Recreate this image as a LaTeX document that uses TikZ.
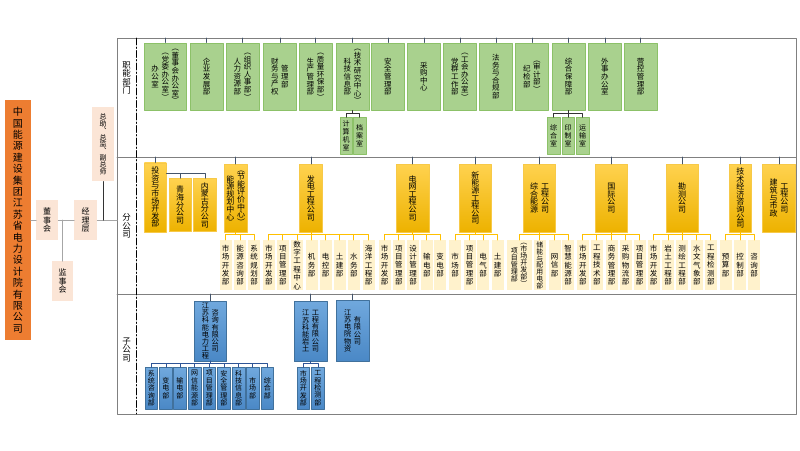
\documentclass[tikz,border=0pt]{standalone}
\usepackage{fontspec}
\setmainfont{Noto Sans CJK SC}
\usepackage{tikz}
\definecolor{orgOrange}{HTML}{ED7D31}
\definecolor{orgPeach}{HTML}{FBE5D6}
\definecolor{orgGreen}{HTML}{A9D18E}
\definecolor{orgGreenLine}{HTML}{8CC168}
\definecolor{orgGold}{HTML}{FFC000}
\definecolor{orgGoldTop}{HTML}{FFD24F}
\definecolor{orgGoldBottom}{HTML}{EDB200}
\definecolor{orgGoldLine}{HTML}{F7C948}
\definecolor{orgCream}{HTML}{FFF2CC}
\definecolor{orgBlueTop}{HTML}{70A8DD}
\definecolor{orgBlueBottom}{HTML}{4A88C6}
\definecolor{orgBlueLine}{HTML}{41719C}
\definecolor{orgNavy}{HTML}{2F5597}
\definecolor{orgSlate}{HTML}{44546A}
\definecolor{orgFrame}{HTML}{808080}
\definecolor{orgSpine}{HTML}{A6A6A6}
% vertical text: one character per line, columns centred
\makeatletter
\newcommand\vtextbox[1]{\ensuremath{\vcenter{\lineskiplimit=-\maxdimen\lineskip=0pt
  \@tfor\vch:=#1\do{\hbox to 1.35em{\hss\vch\hss}}}}}
\newcommand\vtext[1]{\expandafter\vtextbox\expandafter{#1}}
\makeatother
\tikzset{
  org diagram/.style={x=1pt, y=-1pt, line cap=round, line join=round},
  org box/.style={inner sep=0pt, anchor=north west, text=black},
  org main box/.style={org box, fill=orgOrange, font=\fontsize{10}{11.4}\selectfont},
  org lead box/.style={org box, fill=orgPeach, font=\fontsize{8}{8.5}\selectfont},
  org fn box/.style={org box, draw=orgGreenLine, fill=orgGreen, line width=0.6pt,
    font=\fontsize{7.5}{7.6}\selectfont},
  org fn sub/.style={org fn box, font=\fontsize{7}{7.8}\selectfont},
  org branch box/.style={org box, draw=orgGoldLine, top color=orgGoldTop,
    bottom color=orgGoldBottom, line width=0.6pt, font=\fontsize{8}{7.6}\selectfont},
  org unit box/.style={org box, fill=orgCream, font=\fontsize{7.5}{8.4}\selectfont},
  org sub box/.style={org box, draw=orgBlueLine, top color=orgBlueTop,
    bottom color=orgBlueBottom, line width=0.6pt, font=\fontsize{7.2}{7.2}\selectfont},
  org sub unit/.style={org sub box, font=\fontsize{7}{7.4}\selectfont},
  org label/.style={inner sep=0pt, font=\fontsize{8.5}{8.3}\selectfont},
  org frame/.style={draw=orgFrame, line width=0.8pt},
  org spine/.style={draw=orgSpine, line width=1.2pt},
  org stub/.style={draw=orgSlate, line width=0.6pt},
  org link/.style={draw=black!80, line width=0.6pt},
  org gold link/.style={draw=orgGold, line width=0.9pt},
  org blue link/.style={draw=orgNavy, line width=0.8pt},
  org dashdot/.style={draw=black, line width=0.8pt, dash pattern=on 7pt off 2pt on 1.5pt off 2pt}
}
\begin{document}
\begin{tikzpicture}[org diagram]
\useasboundingbox[fill=white] (0,0) rectangle (800,450);
% frame and sections
\coordinate (fn top) at (117,38);
\coordinate (fg top) at (117,157);
\coordinate (zg top) at (117,294);
\draw[org frame] (117,38) rectangle (796,414);
\draw[org frame] (fg top) -- (796,157);
\draw[org frame] (zg top) -- (796,294);
\draw[org dashdot] (136,38) -- (136,414);
\node[org label] (lbl-fn) at (126.5,78) {\vtext{职能部门}};
\node[org label] (lbl-fg) at (126.5,226) {\vtext{分公司}};
\node[org label] (lbl-zg) at (126.5,350) {\vtext{子公司}};

% leadership
\node[org main box, minimum width=25.5pt, minimum height=240pt] (jt) at (5,100) {\vtext{中国能源建设集团江苏省电力设计院有限公司}};
\node[org lead box, minimum width=22pt, minimum height=40pt] (dsh) at (36,200) {\vtext{董事会}};
\node[org lead box, minimum width=21pt, minimum height=40pt] (jsh) at (52,261) {\vtext{监事会}};
\node[org lead box, minimum width=23pt, minimum height=40pt] (jlc) at (74,200) {\vtext{经理层}};
\node[org lead box, minimum width=22pt, minimum height=74pt, font=\fontsize{7}{6.8}\selectfont] (zz) at (92,107) {\vtext{总助︑总监︑副总师}};
\draw[org spine] (jt.east) -- (dsh.west);
\draw[org spine] (dsh.east) -- (jlc.west);
\draw[org spine] (jlc.east) -- (jlc.east -| fn top);
\draw[org spine] (jsh.north) -- (jsh.north |- dsh.east);
\draw[org link] (zz.south) -- (zz.south |- jlc.east);

% functional departments
\node[org fn box, minimum width=41.5pt, minimum height=67.5pt] (bgs) at (144.3,42.5) {\vtext{办公室}\vtext{︵党委办公室︶}\vtext{︵董事会办公室︶}};
\foreach \n/\x/\t in {qyfz/190/{\vtext{企业发展部}}, rlzy/226/{\vtext{人力资源部}\vtext{︵组织人事部︶}}, cwcq/263.3/{\vtext{财务与产权}\vtext{管理部}}, scgl/299/{\vtext{生产管理部}\vtext{︵质量环保部︶}}, kjxx/336/{\vtext{科技信息部}\vtext{︵技术研究中心︶}}, aqgl/371.3/{\vtext{安全管理部}}, cgzx/407.3/{\vtext{采购中心}}, dqgz/443.3/{\vtext{党群工作部}\vtext{︵工会办公室︶}}, fwhg/479.3/{\vtext{法务与合规部}}, jjb/515.3/{\vtext{纪检部}\vtext{︵审计部︶}}, zhbz/552/{\vtext{综合保障部}}, wsbgs/588.3/{\vtext{外事办公室}}, ykgl/624/{\vtext{营控管理部}}}
  \node[org fn box, minimum width=32.5pt, minimum height=67.5pt] (\n) at (\x,42.5) {\t};
\foreach \n in {bgs,qyfz,rlzy,cwcq,scgl,kjxx,aqgl,cgzx,dqgz,fwhg,jjb,zhbz,wsbgs,ykgl}
  \draw[org stub] (\n.north) -- (\n.north |- fn top);
\foreach \n/\x/\t in {kjxx-1/339.5/计算机室, kjxx-2/353/档案室, zhbz-1/547/综合室, zhbz-2/561.5/印制室, zhbz-3/576/运输室}
  \node[org fn sub, minimum width=12.5pt, minimum height=36.5pt] (\n) at (\x,117.3) {\vtext{\t}};
\foreach \i in {1,2}
  \draw[org link] (kjxx.south) -- ++(0,2.5) -| (kjxx-\i.north);
\foreach \i in {1,2,3}
  \draw[org link] (zhbz.south) -- ++(0,2.5) -| (zhbz-\i.north);

% branches
\node[org branch box, minimum width=22pt, minimum height=69pt] (tzsc) at (144,162.5) {\vtext{投资与市场开发部}};
\node[org branch box, minimum width=22pt, minimum height=53pt] (qh) at (168.7,178.3) {\vtext{青海分公司}};
\node[org branch box, minimum width=22.7pt, minimum height=53pt] (nmg) at (193.3,178.3) {\vtext{内蒙古分公司}};
\draw[org stub] (tzsc.north east) ++(0,11) -| (qh.north);
\draw[org stub] (tzsc.north east) ++(0,11) -| (nmg.north);
\foreach \n/\x/\w/\t in {nygh/224/22.7/{\vtext{能源规划中心}\vtext{︵节能评价中心︶}}, fdgc/299.3/22.7/{\vtext{发电工程公司}}, dwgc/396/32.7/{\vtext{电网工程公司}}, xny/459.3/31.5/{\vtext{新能源工程公司}}, zhny/523.3/32/{\vtext{综合能源}\vtext{工程公司}}, gjgs/595/32.3/{\vtext{国际公司}}, kcgs/665.7/32.3/{\vtext{勘测公司}}, jjzx/729/22.3/{\vtext{技术经济咨询公司}}, jzsz/762.3/32.7/{\vtext{建筑与市政}\vtext{工程公司}}}
  \node[org branch box, minimum width=\w pt, minimum height=67.5pt] (\n) at (\x,164) {\t};
\foreach \n in {tzsc,nygh,fdgc,dwgc,xny,zhny,gjgs,kcgs,jjzx,jzsz}
  \draw[org stub] (\n.north) -- (\n.north |- fg top);
\foreach \p/\i/\x/\t in {nygh/1/219.3/市场开发部, nygh/2/234/能源咨询部, nygh/3/248/系统规划部, fdgc/1/262.7/市场开发部, fdgc/2/276.7/项目管理部, fdgc/3/291/数字工程中心, fdgc/4/305.3/机务部, fdgc/5/319.3/电控部, fdgc/6/333.3/土建部, fdgc/7/347.7/水务部, fdgc/8/362.5/海洋工程部, dwgc/1/378.3/市场开发部, dwgc/2/392.7/项目管理部, dwgc/3/407/设计管理部, dwgc/4/420.7/输电部, dwgc/5/434/变电部, xny/1/449/市场部, xny/2/463.3/项目管理部, xny/3/477/电气部, xny/4/491.3/土建部, zhny/3/548.5/网信部, zhny/4/562/智慧能源部, gjgs/1/576.7/市场开发部, gjgs/2/590.7/工程技术部, gjgs/3/605.3/商务管理部, gjgs/4/619.3/采购物流部, gjgs/5/633.3/项目管理部, kcgs/1/647.3/市场开发部, kcgs/2/662/岩土工程部, kcgs/3/676/测绘工程部, kcgs/4/690.7/水文气象部, kcgs/5/704.7/工程检测部, jjzx/1/719.5/预算部, jjzx/2/734/控制部, jjzx/3/748/咨询部}
  \node[org unit box, minimum width=12pt, minimum height=50pt] (\p-\i) at (\x,240) {\vtext{\t}};
\node[org unit box, minimum width=24.6pt, minimum height=50pt, font=\fontsize{7}{7}\selectfont] (zhny-1) at (506.7,240) {\vtext{项目管理部}\vtext{︵市场开发部︶}};
\node[org unit box, minimum width=12pt, minimum height=50pt, font=\fontsize{6.8}{6.8}\selectfont] (zhny-2) at (533.5,240) {\vtext{储能与配用电部}};
\foreach \p/\k in {nygh/3, fdgc/8, dwgc/5, xny/4, zhny/4, gjgs/5, kcgs/5, jjzx/3}
  \foreach \i in {1,...,\k}
    \draw[org gold link] (\p.south) -- ++(0,2.8) -| (\p-\i.north);

% subsidiaries
\node[org sub box, minimum width=32pt, minimum height=60pt] (kndl) at (194,300.7) {\vtext{江苏科能电力工程}\vtext{咨询有限公司}};
\node[org sub box, minimum width=32.7pt, minimum height=60pt] (knyt) at (294,300.7) {\vtext{江苏科能岩土}\vtext{工程有限公司}};
\node[org sub box, minimum width=32.7pt, minimum height=60.7pt] (dywz) at (336,300) {\vtext{江苏电院物资}\vtext{有限公司}};
\foreach \n in {kndl,knyt,dywz}
  \draw[org stub] (\n.north) -- (\n.north |- zg top);
\foreach \p/\i/\x/\t in {kndl/1/144.7/系统咨询部, kndl/2/159.3/变电部, kndl/3/173.3/输电部, kndl/4/188/网信能源部, kndl/5/202.7/项目管理部, kndl/6/217.3/安全管理部, kndl/7/232/科技信息部, kndl/8/246/市场部, kndl/9/260.7/综合部, knyt/1/296.7/市场开发部, knyt/2/311.3/工程检测部}
  \node[org sub unit, minimum width=12.6pt, minimum height=41.3pt] (\p-\i) at (\x,367.3) {\vtext{\t}};
\foreach \i in {1,...,9}
  \draw[org blue link] (kndl.south) -- ++(0,2.2) -| (kndl-\i.north);
\foreach \i in {1,2}
  \draw[org blue link] (knyt.south) -- ++(0,2.2) -| (knyt-\i.north);
\end{tikzpicture}
\end{document}
